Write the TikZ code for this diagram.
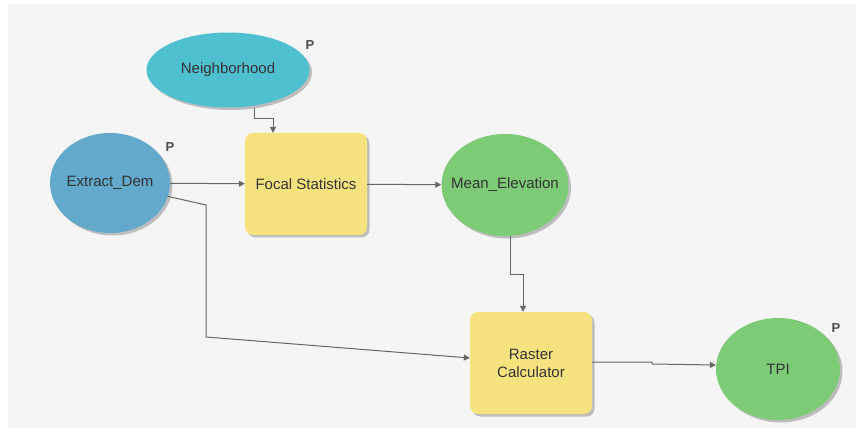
\documentclass[tikz,border=0pt]{standalone}
\usepackage{fontspec}
\setmainfont{Liberation Sans}
\usetikzlibrary{shapes.geometric,arrows.meta,shadows,positioning}
\definecolor{bgcol}{HTML}{F5F5F5}
\definecolor{tealcol}{HTML}{4FC0CF}
\definecolor{bluecol}{HTML}{62A9CC}
\definecolor{toolcol}{HTML}{F6E37F}
\definecolor{greencol}{HTML}{7DCB77}
\definecolor{txtcol}{HTML}{333333}
\definecolor{linecol}{HTML}{666666}
\begin{document}
\begin{tikzpicture}[x=1pt,y=-1pt,>={Triangle[length=6pt,width=6pt]},
  every node/.style={text=txtcol,font=\fontsize{15}{18}\selectfont},
  shade/.style={drop shadow={shadow xshift=2.5pt,shadow yshift=-2.5pt,fill=black!35,opacity=0.7}},
  data node/.style={ellipse,inner xsep=-12pt,inner ysep=-2pt,shade},
  tool node/.style={rectangle,rounded corners=8pt,fill=toolcol,minimum width=122pt,
    minimum height=102pt,align=center,shade},
  pmark/.style={font=\fontsize{13}{14}\selectfont\bfseries,text=black!70},
  conn/.style={->,draw=linecol,line width=1pt}]

  \useasboundingbox (0,0) rectangle (856,438);
  \fill[bgcol] (8,4) rectangle (856,428);

  \node[data node,fill=tealcol,minimum width=163pt,minimum height=75pt] (nb) at (228,70) {Neighborhood};
  \node[data node,fill=bluecol,minimum width=120pt,minimum height=100pt] (ed) at (110,183) {Extract\_Dem};
  \node[tool node] (focal) at (306,184) {Focal Statistics};
  \node[data node,fill=greencol,minimum width=127pt,minimum height=102pt] (mean) at (505,185) {Mean\_Elevation};
  \node[tool node] (rc) at (531,363) {Raster\\Calculator};
  \node[data node,fill=greencol,minimum width=124pt,minimum height=102pt] (tpi) at (778,369) {TPI};

  \node[pmark] (p1) at (310,45) {P};
  \node[pmark] (p2) at (170,147) {P};
  \node[pmark] (p3) at (836,328) {P};

  \draw[conn] ([xshift=26pt]nb.south) -- ++(0,11) -| ([xshift=-33pt]focal.north);
  \draw[conn] (ed) -- (focal);
  \draw[conn] (focal) -- (mean);
  \draw[conn] (ed.-13) -- (206,205) -- (206,337) -- ([yshift=5pt]rc.west);
  \draw[conn] ([xshift=5pt]mean.south) -- ++(0,38) -| ([xshift=-8pt]rc.north);
  \draw[conn] ([yshift=1pt]rc.east) -- ++(60,0) -- ++(0,2) -- ([yshift=4pt]tpi.west);
\end{tikzpicture}
\end{document}
